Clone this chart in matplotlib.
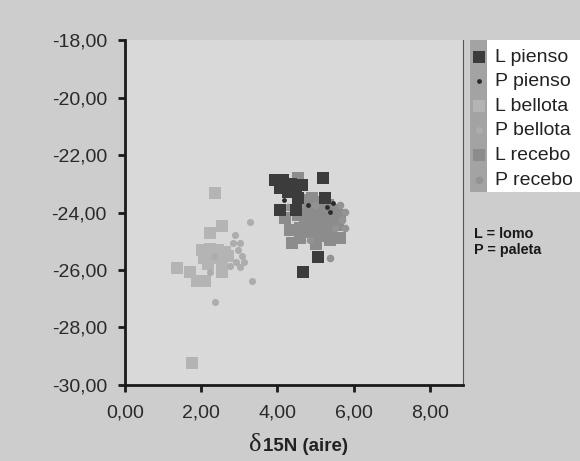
import matplotlib.pyplot as plt
from matplotlib.patches import Rectangle

plt.rcParams['font.family'] = ['Liberation Sans', 'DejaVu Sans']

# delta 15N (x) / delta 13C (y) por grupo
l_pienso_x = [3.94, 4.15, 4.36, 4.07, 4.28, 4.49, 4.54, 4.65, 5.20, 4.07, 4.49, 5.25, 5.07, 4.67, 4.38]
l_pienso_y = [-22.87, -22.87, -23.01, -23.15, -23.29, -23.22, -23.50, -23.04, -22.80, -23.91, -23.91,
              -23.50, -25.55, -26.07, -23.15]
p_pienso_x = [5.46, 5.30, 4.17, 4.80, 5.38]
p_pienso_y = [-23.67, -23.81, -23.57, -23.74, -23.98]
l_bellota_x = [2.36, 2.55, 2.23, 1.36, 1.71, 1.89, 2.10, 2.55, 1.76, 2.02, 2.23, 2.44, 2.62, 2.07,
               2.28, 2.49, 2.70, 2.18, 2.55, 2.36]
l_bellota_y = [-23.32, -24.47, -24.71, -25.93, -26.07, -26.38, -26.38, -26.07, -29.23, -25.30, -25.27,
               -25.30, -25.37, -25.58, -25.58, -25.58, -25.51, -25.79, -25.76, -25.48]
p_bellota_x = [3.28, 2.89, 2.83, 3.02, 2.23, 3.33, 2.36, 2.97, 3.07, 2.91, 3.02, 3.12, 2.76, 2.34]
p_bellota_y = [-24.33, -24.78, -25.06, -25.06, -26.07, -26.38, -27.11, -25.30, -25.51, -25.72, -25.90,
               -25.72, -25.86, -25.51]
l_recebo_x = [4.54, 4.33, 4.38, 4.20, 4.72, 4.91, 5.12, 5.33, 5.54, 4.80, 5.01, 5.22, 5.43, 5.64,
              4.72, 4.93, 5.17, 5.59, 4.59, 4.86, 5.07, 5.33, 5.07, 5.38, 4.54, 4.59, 5.38, 5.64, 5.01]
l_recebo_y = [-22.80, -24.61, -25.06, -24.19, -23.57, -23.50, -23.64, -23.74, -23.91, -23.91, -23.98,
              -24.05, -24.19, -24.09, -24.26, -24.33, -24.40, -24.43, -24.54, -24.68, -24.82, -24.78,
              -24.54, -24.54, -24.09, -24.89, -24.96, -24.89, -25.10]
p_recebo_x = [5.38, 4.28, 5.64, 5.77, 5.70, 5.51, 5.77, 4.99, 4.59, 4.86]
p_recebo_y = [-25.58, -23.81, -23.74, -23.98, -24.26, -24.54, -24.54, -23.74, -23.74, -24.96]

x_ticks = [0, 2, 4, 6, 8]
y_ticks = [-30, -28, -26, -24, -22, -20, -18]
x_labels = ['0,00', '2,00', '4,00', '6,00', '8,00']
y_labels = ['-30,00', '-28,00', '-26,00', '-24,00', '-22,00', '-20,00', '-18,00']

fig = plt.figure(figsize=(5.8, 4.61), dpi=100)
fig.patch.set_facecolor('#cdcdcd')
ax = fig.add_axes([0.2155, 0.165, 0.583, 0.748])
ax.set_facecolor('#d9d9d9')

ax.scatter(l_bellota_x, l_bellota_y, marker='s', s=72, color='#b4b4b4', linewidths=0, label='L bellota', zorder=3)
ax.scatter(p_bellota_x, p_bellota_y, marker='o', s=26, color='#adadad', linewidths=0, label='P bellota', zorder=3)
ax.scatter(l_recebo_x, l_recebo_y, marker='s', s=72, color='#8c8c8c', linewidths=0, label='L recebo', zorder=3)
ax.scatter(p_recebo_x, p_recebo_y, marker='o', s=30, color='#939393', linewidths=0, label='P recebo', zorder=3)
ax.scatter(l_pienso_x, l_pienso_y, marker='s', s=72, color='#3c3c3c', linewidths=0, label='L pienso', zorder=4)
ax.scatter(p_pienso_x, p_pienso_y, marker='o', s=12, color='#2a2a2a', linewidths=0, label='P pienso', zorder=5)

ax.set_xlim(0, 8.87)
ax.set_ylim(-30, -18)
ax.set_xticks(x_ticks)
ax.set_yticks(y_ticks)
ax.set_xticklabels(x_labels)
ax.set_yticklabels(y_labels)
ax.tick_params(direction='out', length=5, width=2, color='#1a1a1a', labelcolor='#2a2a2a', labelsize=14)
ax.tick_params(axis='y', pad=8)
ax.tick_params(axis='x', pad=9)

ax.spines['top'].set_visible(False)
for side in ['left', 'bottom']:
    ax.spines[side].set_linewidth(2)
    ax.spines[side].set_color('#1a1a1a')
ax.spines['right'].set_linewidth(0.8)
ax.spines['right'].set_color('#555555')

# eje x: delta grande y resto en negrita
fig.text(261 / 580, 1 - 451 / 461, '\u03b4', fontsize=19, family='Liberation Serif', color='#222222',
         ha='right', va='baseline')
fig.text(263 / 580, 1 - 451 / 461, '15N (aire)', fontsize=13.5, fontweight='bold', color='#222222',
         ha='left', va='baseline')

# leyenda: franja gris para simbolos, texto sobre blanco
fig.patches.append(Rectangle((487 / 580, 1 - 192 / 461), 93 / 580, 152 / 461,
                             transform=fig.transFigure, facecolor='white', edgecolor='none', zorder=1))
fig.patches.append(Rectangle((470 / 580, 1 - 192 / 461), 17 / 580, 152 / 461,
                             transform=fig.transFigure, facecolor='#a3a3a3', edgecolor='none', zorder=2))
handles, labels = ax.get_legend_handles_labels()
order = ['L pienso', 'P pienso', 'L bellota', 'P bellota', 'L recebo', 'P recebo']
hmap = dict(zip(labels, handles))
fig.legend([hmap[k] for k in order], order, loc='upper left', bbox_to_anchor=(471 / 580, 1 - 48 / 461),
           frameon=False, fontsize=14, handletextpad=0.45, handlelength=0.8, labelspacing=0.36,
           borderaxespad=0, borderpad=0, scatterpoints=1, labelcolor='#222222')

fig.text(474 / 580, 1 - 234 / 461, 'L = lomo', fontsize=10.4, fontweight='bold', color='#1a1a1a', va='center')
fig.text(474 / 580, 1 - 250 / 461, 'P = paleta', fontsize=10.4, fontweight='bold', color='#1a1a1a', va='center')

fig.savefig('out.png', dpi=100, facecolor=fig.get_facecolor())
